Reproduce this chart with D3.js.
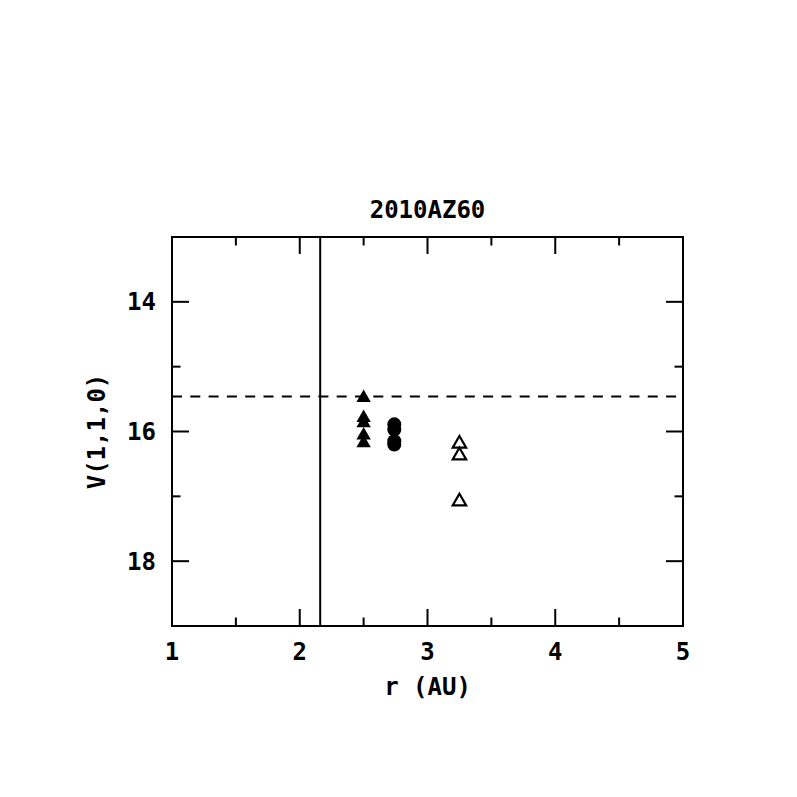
<!DOCTYPE html>
<html>
<head>
<meta charset="utf-8">
<script src="https://cdn.jsdelivr.net/npm/d3@7"></script>
<style>
  body { margin: 0; background: #fff; }
  text { font-family: "DejaVu Sans Mono", "Liberation Mono", monospace; font-weight: bold; fill: #000; }
</style>
</head>
<body>
<svg id="svgx" width="797" height="797"></svg>
<script>
// data
var title = "2010AZ60";
var xLabel = "r (AU)";
var yLabel = "V(1,1,0)";
var xTicks = [1, 2, 3, 4, 5];
var xMinor = [1.5, 2.5, 3.5, 4.5];
var yTicks = [14, 16, 18];
var yMinor = [13, 15, 17, 19];
var limitR = 2.16;      // vertical line
var limitV = 15.46;     // dashed line

var filledTriR = 2.5;
var filledTriV = [15.48, 15.79, 15.87, 16.06, 16.18];
var circleR = 2.74;
var circleV = [15.89, 15.97, 16.15, 16.2];
var openTriR = 3.25;
var openTriV = [16.19, 16.37, 17.08];

var margin = {left: 172, top: 237, right: 114, bottom: 171};
var W = 797, H = 797;

var svg = d3.select('#svgx');

var x = d3.scaleLinear().domain([1, 5]).range([margin.left, W - margin.right]);
var y = d3.scaleLinear().domain([13, 19]).range([margin.top, H - margin.bottom]);

var majLen = 17, minLen = 8.5;
var fs = '24px';
var g = svg.append('g');

// frame
g.append('rect')
  .attr('x', x(1)).attr('y', y(13))
  .attr('width', x(5) - x(1)).attr('height', y(19) - y(13))
  .attr('fill', 'none').attr('stroke', 'black').attr('stroke-width', 2);

// x ticks (bottom and top, pointing in)
function xtick(v, len) {
  g.append('line').attr('x1', x(v)).attr('x2', x(v))
    .attr('y1', y(19)).attr('y2', y(19) - len)
    .attr('stroke', 'black').attr('stroke-width', 2);
  g.append('line').attr('x1', x(v)).attr('x2', x(v))
    .attr('y1', y(13)).attr('y2', y(13) + len)
    .attr('stroke', 'black').attr('stroke-width', 2);
}
xTicks.forEach(v => xtick(v, majLen));
xMinor.forEach(v => xtick(v, minLen));

function ytick(v, len) {
  g.append('line').attr('x1', x(1)).attr('x2', x(1) + len)
    .attr('y1', y(v)).attr('y2', y(v))
    .attr('stroke', 'black').attr('stroke-width', 2);
  g.append('line').attr('x1', x(5)).attr('x2', x(5) - len)
    .attr('y1', y(v)).attr('y2', y(v))
    .attr('stroke', 'black').attr('stroke-width', 2);
}
yTicks.forEach(v => ytick(v, majLen));
yMinor.forEach(v => ytick(v, minLen));

// tick labels
g.selectAll('.xtl').data(xTicks).enter().append('text')
  .attr('class', 'xtl')
  .attr('x', d => x(d)).attr('y', y(19) + 34)
  .attr('text-anchor', 'middle')
  .style('font-size', fs)
  .text(d => d);

g.selectAll('.ytl').data(yTicks).enter().append('text')
  .attr('class', 'ytl')
  .attr('x', x(1) - 16).attr('y', d => y(d))
  .attr('dy', '0.36em')
  .attr('text-anchor', 'end')
  .style('font-size', fs)
  .text(d => d);

// axis labels + title
svg.append('text')
  .attr('x', (x(1) + x(5)) / 2).attr('y', 695)
  .attr('text-anchor', 'middle')
  .style('font-size', fs)
  .text(xLabel);

svg.append('text')
  .attr('transform', `translate(105,${(y(13) + y(19)) / 2}) rotate(-90)`)
  .attr('text-anchor', 'middle')
  .style('font-size', fs)
  .text(yLabel);

svg.append('text')
  .attr('x', (x(1) + x(5)) / 2).attr('y', 218)
  .attr('text-anchor', 'middle')
  .style('font-size', fs)
  .text(title);

// reference lines
g.append('line')
  .attr('x1', x(limitR)).attr('x2', x(limitR))
  .attr('y1', y(13)).attr('y2', y(19))
  .attr('stroke', 'black').attr('stroke-width', 2);

g.append('line')
  .attr('x1', x(1)).attr('x2', x(5))
  .attr('y1', y(limitV)).attr('y2', y(limitV))
  .attr('stroke', 'black').attr('stroke-width', 2)
  .attr('stroke-dasharray', '10,8.3');

// markers
var triSmall = d3.symbol().type(d3.symbolTriangle).size(90);
var triOpen = d3.symbol().type(d3.symbolTriangle).size(78);

g.selectAll('.ftri').data(filledTriV).enter().append('path')
  .attr('class', 'ftri')
  .attr('d', triSmall)
  .attr('transform', d => `translate(${x(filledTriR)},${y(d)})`)
  .attr('fill', 'black');

g.selectAll('.circ').data(circleV).enter().append('circle')
  .attr('class', 'circ')
  .attr('cx', x(circleR)).attr('cy', d => y(d))
  .attr('r', 7)
  .attr('fill', 'black');

g.selectAll('.otri').data(openTriV).enter().append('path')
  .attr('class', 'otri')
  .attr('d', triOpen)
  .attr('transform', d => `translate(${x(openTriR)},${y(d)})`)
  .attr('fill', 'none').attr('stroke', 'black').attr('stroke-width', 2.2);
</script>
</body>
</html>
